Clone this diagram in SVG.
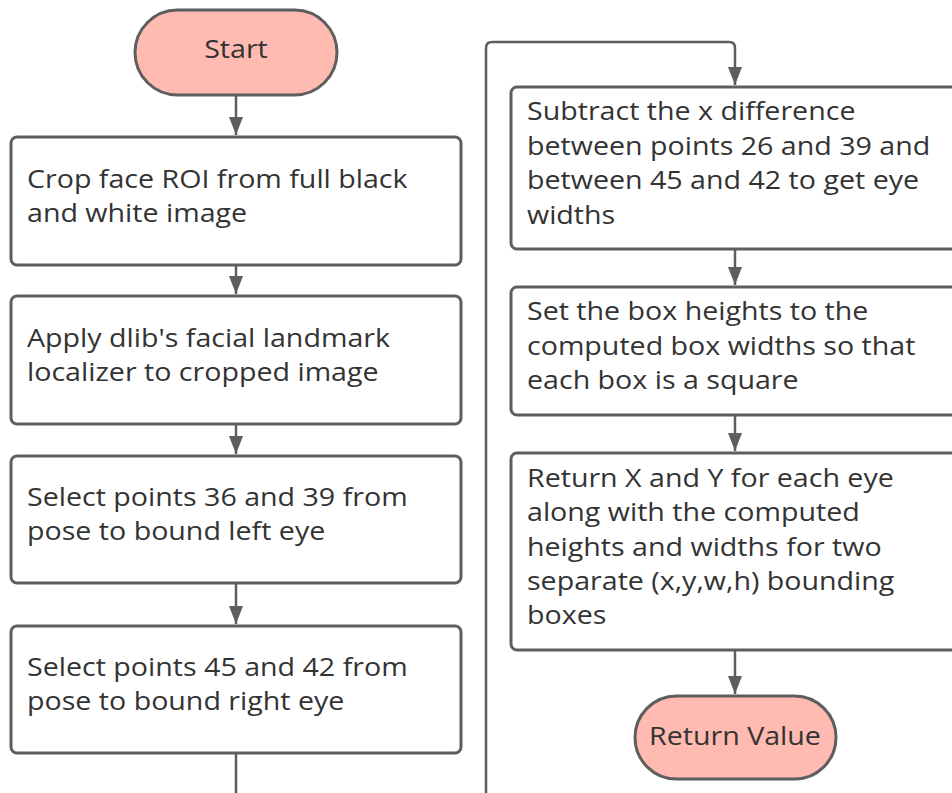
<svg xmlns="http://www.w3.org/2000/svg" width="952" height="793" viewBox="0 0 952 793">
  <defs>
    <marker id="arrow" viewBox="0 0 18 14" refX="18" refY="7" markerWidth="18" markerHeight="14" markerUnits="userSpaceOnUse" orient="auto">
      <path d="M0,0 L18,7 L0,14 Z" fill="#5e5e5e"/>
    </marker>
    <style>
      .box { fill: #ffffff; stroke: #5e5e5e; stroke-width: 3; }
      .term { fill: #ffbab2; stroke: #5e5e5e; stroke-width: 3; }
      .lbl { font-family: "Open Sans", "Liberation Sans", sans-serif; font-size: 26px; fill: #333333; }
      .mid { text-anchor: middle; }
      .edge { fill: none; stroke: #5e5e5e; stroke-width: 2.5; }
    </style>
  </defs>
  <rect width="952" height="793" fill="#ffffff"/>

  <!-- connectors -->
  <g id="connectors">
    <path class="edge" d="M236,95 V135" marker-end="url(#arrow)"/>
    <path class="edge" d="M236,265 V294" marker-end="url(#arrow)"/>
    <path class="edge" d="M236,424 V454" marker-end="url(#arrow)"/>
    <path class="edge" d="M236,583 V624" marker-end="url(#arrow)"/>
    <path class="edge" d="M236,753 V793"/>
    <path class="edge" d="M486,793 V48 Q486,42 492,42 H729 Q735,42 735,48 V85" marker-end="url(#arrow)"/>
    <path class="edge" d="M735,249 V285" marker-end="url(#arrow)"/>
    <path class="edge" d="M735,415 V451" marker-end="url(#arrow)"/>
    <path class="edge" d="M735,650 V694" marker-end="url(#arrow)"/>
  </g>

  <g id="start">
    <rect class="term" x="135" y="10" width="202" height="85" rx="42.5"/>
    <g transform="matrix(1.1 0 0 1 -23.6 0)">
      <text class="lbl mid" x="236" y="58">Start</text>
    </g>
  </g>

  <g id="crop-roi">
    <rect class="box" x="11" y="137" width="450" height="128" rx="6"/>
    <g transform="matrix(1.1 0 0 1 -2.7 0)">
      <text class="lbl" x="27" y="188">Crop face ROI from full black</text>
      <text class="lbl" x="27" y="222">and white image</text>
    </g>
  </g>

  <g id="apply-dlib">
    <rect class="box" x="11" y="296" width="450" height="128" rx="6"/>
    <g transform="matrix(1.1 0 0 1 -2.7 0)">
      <text class="lbl" x="27" y="347">Apply dlib's facial landmark</text>
      <text class="lbl" x="27" y="381">localizer to cropped image</text>
    </g>
  </g>

  <g id="left-eye">
    <rect class="box" x="11" y="456" width="450" height="127" rx="6"/>
    <g transform="matrix(1.1 0 0 1 -2.7 0)">
      <text class="lbl" x="27" y="506">Select points 36 and 39 from</text>
      <text class="lbl" x="27" y="540">pose to bound left eye</text>
    </g>
  </g>

  <g id="right-eye">
    <rect class="box" x="11" y="626" width="450" height="127" rx="6"/>
    <g transform="matrix(1.1 0 0 1 -2.7 0)">
      <text class="lbl" x="27" y="676">Select points 45 and 42 from</text>
      <text class="lbl" x="27" y="710">pose to bound right eye</text>
    </g>
  </g>

  <g id="eye-widths">
    <rect class="box" x="511" y="87" width="450" height="162" rx="6"/>
    <g transform="matrix(1.1 0 0 1 -52.7 0)">
      <text class="lbl" x="527" y="120">Subtract the x difference</text>
      <text class="lbl" x="527" y="155">between points 26 and 39 and</text>
      <text class="lbl" x="527" y="189">between 45 and 42 to get eye</text>
      <text class="lbl" x="527" y="224">widths</text>
    </g>
  </g>

  <g id="box-heights">
    <rect class="box" x="511" y="287" width="450" height="128" rx="6"/>
    <g transform="matrix(1.1 0 0 1 -52.7 0)">
      <text class="lbl" x="527" y="320">Set the box heights to the</text>
      <text class="lbl" x="527" y="355">computed box widths so that</text>
      <text class="lbl" x="527" y="389">each box is a square</text>
    </g>
  </g>

  <g id="return-boxes">
    <rect class="box" x="511" y="453" width="450" height="197" rx="6"/>
    <g transform="matrix(1.1 0 0 1 -52.7 0)">
      <text class="lbl" x="527" y="487">Return X and Y for each eye</text>
      <text class="lbl" x="527" y="521">along with the computed</text>
      <text class="lbl" x="527" y="556">heights and widths for two</text>
      <text class="lbl" x="527" y="590">separate (x,y,w,h) bounding</text>
      <text class="lbl" x="527" y="624">boxes</text>
    </g>
  </g>

  <g id="return-value">
    <rect class="term" x="635" y="696" width="201" height="83" rx="41.5"/>
    <g transform="matrix(1.1 0 0 1 -73.5 0)">
      <text class="lbl mid" x="735" y="745">Return Value</text>
    </g>
  </g>
</svg>
